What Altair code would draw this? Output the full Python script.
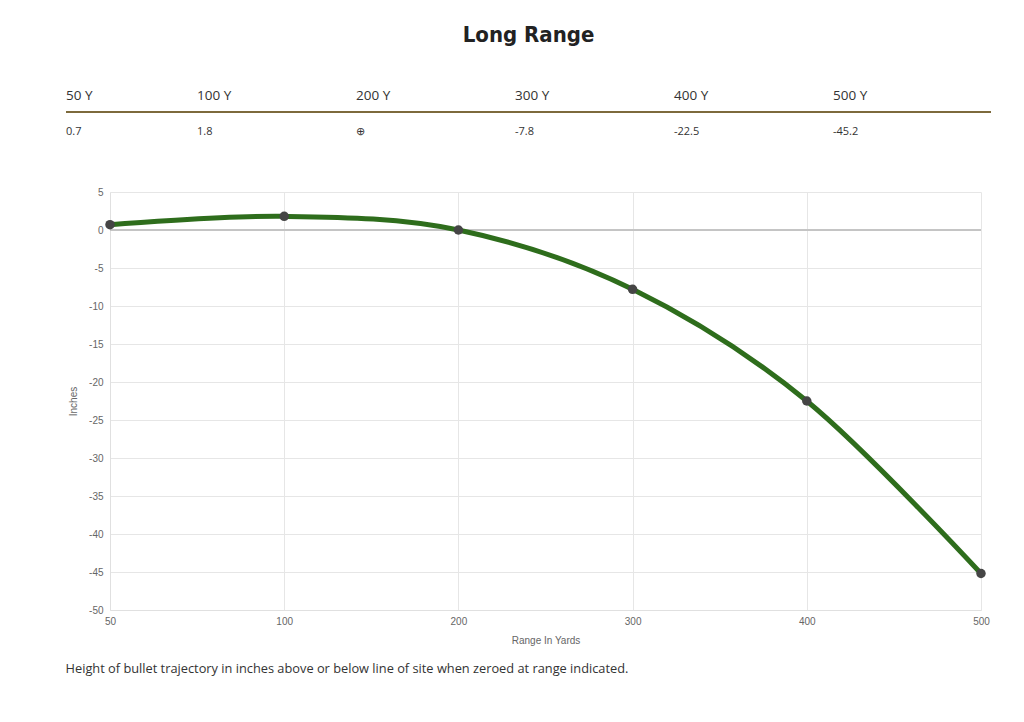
import altair as alt
import pandas as pd

# ---- data ----
ranges = [50, 100, 200, 300, 400, 500]
drops = [0.7, 1.8, 0.0, -7.8, -22.5, -45.2]
headers = ["50 Y", "100 Y", "200 Y", "300 Y", "400 Y", "500 Y"]
cells = ["0.7", "1.8", "\u2295", "-7.8", "-22.5", "-45.2"]
y_ticks = list(range(-50, 6, 5))

line_df = pd.DataFrame({"range": ranges, "inches": drops})
col_index = list(range(len(headers)))
table_df = pd.DataFrame(
    {
        "col": col_index * 2,
        "row": ["h"] * 6 + ["v"] * 6,
        "text": headers + cells,
    }
)

# ---- table (first column narrower than the others, as in the HTML table) ----
tx = alt.X(
    "col:Q",
    scale=alt.Scale(domain=[0, 1, 5], range=[-44, 87, 723], nice=False, zero=False),
    axis=None,
)
ty = alt.Y("row:N", scale=alt.Scale(domain=["h", "v"], padding=0.5), axis=None)
head = (
    alt.Chart(table_df)
    .transform_filter("datum.row == 'h'")
    .mark_text(align="left", baseline="middle", font="Open Sans", fontSize=13.5, color="#333333")
    .encode(x=tx, y=ty, text="text:N")
)
vals = (
    alt.Chart(table_df)
    .transform_filter("datum.row == 'v'")
    .mark_text(align="left", baseline="middle", font="Open Sans", fontSize=11, color="#333333")
    .encode(x=tx, y=ty, text="text:N")
)
rule = alt.Chart(table_df).mark_rule(color="#7d6a3c", strokeWidth=2).encode(
    x=alt.value(-44), x2=alt.value(881), y=alt.value(34)
)
table = alt.layer(rule, head, vals).properties(width=767, height=72)

# ---- line chart ----
x = alt.X(
    "range:O",
    sort=ranges,
    scale=alt.Scale(padding=0),
    axis=alt.Axis(
        title="Range In Yards",
        labelAngle=0,
        grid=True,
        ticks=False,
        labelPadding=6,
        titlePadding=9,
    ),
)
y_scale = alt.Scale(domain=[-50, 5], nice=False)
y_axis = alt.Axis(
    title="Inches",
    values=y_ticks,
    labelExpr="'' + datum.value",
    grid=True,
    ticks=False,
    labelPadding=7,
    titlePadding=10,
)
y = alt.Y("inches:Q", scale=y_scale, axis=y_axis)
zero = alt.Chart(line_df).mark_rule(color="#c4c4c4", strokeWidth=1).encode(
    y=alt.Y(datum=0, type="quantitative", scale=y_scale, axis=y_axis)
)
line = alt.Chart(line_df).mark_line(
    color="#2e6d1c", strokeWidth=5, interpolate="cardinal", tension=0
).encode(x=x, y=y)
pts = alt.Chart(line_df).mark_circle(color="#454545", opacity=1, size=90).encode(x=x, y=y)
plot = alt.layer(zero, line, pts).properties(
    width=871,
    height=418,
    title=alt.TitleParams(
        "Height of bullet trajectory in inches above or below line of site when zeroed at range indicated.",
        orient="bottom",
        anchor="start",
        font="Open Sans",
        fontSize=12.8,
        fontWeight="normal",
        color="#333333",
        offset=18,
        dx=-3,
    ),
)

chart = (
    alt.vconcat(table, plot, spacing=37)
    .properties(
        title=alt.TitleParams(
            "Long Range",
            anchor="middle",
            font="'DejaVu Sans Condensed', 'Roboto Condensed', Roboto, sans-serif",
            fontSize=22,
            fontWeight="bold",
            color="#222222",
            offset=31,
        ),
        padding={"left": 57, "top": 16, "right": 0, "bottom": 0},
    )
    .configure_view(stroke=None)
    .configure_axis(
        labelFont="Liberation Sans",
        labelFontSize=10,
        labelColor="#666666",
        titleFont="Liberation Sans",
        titleFontSize=10,
        titleFontWeight="normal",
        titleColor="#666666",
        gridColor="#e6e6e6",
        domainColor="#e0e0e0",
    )
)

chart.save("out.html", embed_options={"renderer": "svg", "actions": False})
